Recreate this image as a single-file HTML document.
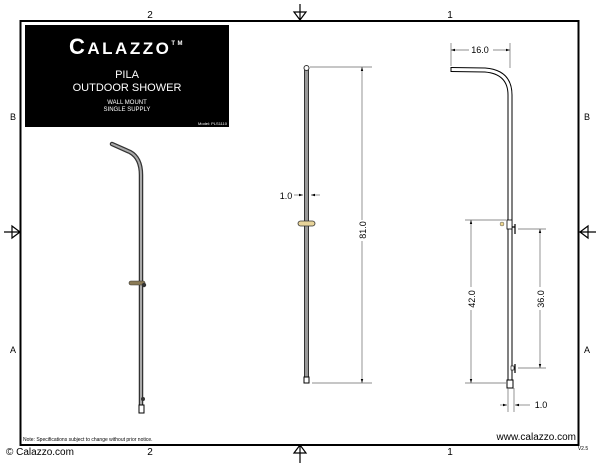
<!DOCTYPE html>
<html><head><meta charset="utf-8"><style>
html,body{margin:0;padding:0;background:#fff;}
svg{display:block;font-family:"Liberation Sans",sans-serif;}
</style></head><body>
<svg width="600" height="464" viewBox="0 0 600 464" xmlns="http://www.w3.org/2000/svg">
<defs>
<marker id="ar" viewBox="0 0 10 10" refX="10" refY="5" markerWidth="6" markerHeight="6" orient="auto-start-reverse"><path d="M0,2 L10,5 L0,8 z" fill="#000"/></marker>
</defs>
<rect x="20.5" y="21" width="558" height="424" fill="none" stroke="#000" stroke-width="2"/>
<text x="150" y="18" font-size="10" text-anchor="middle">2</text>
<text x="450" y="18" font-size="10" text-anchor="middle">1</text>
<g stroke="#000" fill="none" stroke-width="1.2">
<path d="M300,4 V21 M294,12 L300,20 L306,12 Z"/>
<path d="M300,463 V445 M294,453 L300,445 L306,453 Z"/>
<path d="M4,232 H20 M12,226 L20,232 L12,238 Z"/>
<path d="M596,232 H579 M588,226 L580,232 L588,238 Z"/>
</g>
<text x="13" y="120" font-size="9" text-anchor="middle">B</text>
<text x="13" y="353" font-size="9" text-anchor="middle">A</text>
<text x="587" y="120" font-size="9" text-anchor="middle">B</text>
<text x="587" y="353" font-size="9" text-anchor="middle">A</text>
<text x="150" y="455" font-size="10" text-anchor="middle">2</text>
<text x="450" y="455" font-size="10" text-anchor="middle">1</text>
<text x="6" y="455" font-size="10">© Calazzo.com</text>
<text x="583" y="450" font-size="5" text-anchor="middle">V2.5</text>
<text x="23" y="441" font-size="5">Note: Specifications subject to change without prior notice.</text>
<text x="576" y="440" font-size="10" text-anchor="end">www.calazzo.com</text>
<rect x="25" y="25" width="204" height="102" fill="#000"/>
<text x="127" y="54" font-size="22" fill="#fff" text-anchor="middle" letter-spacing="2.5" font-weight="bold">C<tspan font-size="17">ALAZZO</tspan><tspan font-size="6" dy="-9">TM</tspan></text>
<text x="127" y="78" font-size="11" fill="#fff" text-anchor="middle">PILA</text>
<text x="127" y="91" font-size="11" fill="#fff" text-anchor="middle">OUTDOOR SHOWER</text>
<text x="127" y="104" font-size="6" fill="#fff" text-anchor="middle">WALL MOUNT</text>
<text x="127" y="111" font-size="6" fill="#fff" text-anchor="middle">SINGLE SUPPLY</text>
<text x="227" y="125" font-size="4" fill="#fff" text-anchor="end">Model: PLS1110</text>
<g fill="none" stroke-linecap="round">
<path d="M112,144 L130,152 Q141,158 141,175 L141,410" stroke="#333" stroke-width="4.5"/>
<path d="M112,144 L130,152 Q141,158 141,175 L141,410" stroke="#aaa" stroke-width="2"/>
</g>
<rect x="139" y="405" width="5" height="8" fill="#fff" stroke="#000"/>
<circle cx="143" cy="399" r="2" fill="#333"/>
<rect x="129" y="281" width="16" height="4" rx="2" fill="#8a7a55" stroke="#333" stroke-width="0.6"/>
<circle cx="144" cy="285" r="2.2" fill="#333"/>
<rect x="304.5" y="68" width="4" height="310" fill="#999" stroke="#333" stroke-width="1"/>
<circle cx="306.5" cy="68" r="2.5" fill="#fff" stroke="#333"/>
<rect x="304" y="377" width="5" height="6" fill="#fff" stroke="#000"/>
<rect x="298" y="221" width="17" height="5" rx="2.5" fill="#e8d49a" stroke="#333" stroke-width="0.8"/>
<g stroke="#666" stroke-width="0.7">
<line x1="310" y1="67" x2="372" y2="67"/><line x1="312" y1="383" x2="372" y2="383"/>
<line x1="362" y1="67" x2="362" y2="220" marker-start="url(#ar)"/>
<line x1="362" y1="241" x2="362" y2="383" marker-end="url(#ar)"/>
<line x1="294" y1="195" x2="303" y2="195" marker-end="url(#ar)"/>
<line x1="320" y1="195" x2="311" y2="195" marker-end="url(#ar)"/>
</g>
<text x="286" y="199" font-size="9" text-anchor="middle">1.0</text>
<text transform="translate(366,230) rotate(-90)" font-size="9" text-anchor="middle">81.0</text>
<path d="M451,69.5 L485,70 Q510,72 510,95 L510,384" fill="none" stroke="#000" stroke-width="5"/>
<path d="M451,69.5 L485,70 Q510,72 510,95 L510,384" fill="none" stroke="#fff" stroke-width="3"/>
<line x1="451" y1="67" x2="451" y2="72" stroke="#000"/>
<rect x="507" y="380" width="6" height="8" fill="#fff" stroke="#000"/>
<rect x="507" y="220" width="5" height="9" fill="#fff" stroke="#000" stroke-width="0.8"/>
<path d="M512,227 H515 M515,224 V234" stroke="#000" fill="none" stroke-width="1.2"/>
<path d="M512,368 H515 M515,364 V373" stroke="#000" fill="none" stroke-width="1.2"/>
<rect x="511" y="366" width="3" height="4" fill="#fff" stroke="#000" stroke-width="0.6"/>
<circle cx="502" cy="224" r="2" fill="#f0d890" stroke="#555" stroke-width="0.5"/>
<g stroke="#666" stroke-width="0.7">
<line x1="451" y1="43" x2="451" y2="66"/><line x1="510" y1="43" x2="510" y2="68"/>
<line x1="451" y1="50" x2="469" y2="50" marker-start="url(#ar)"/>
<line x1="493" y1="50" x2="510" y2="50" marker-end="url(#ar)"/>
<line x1="465" y1="220" x2="506" y2="220"/><line x1="465" y1="383" x2="506" y2="383"/>
<line x1="471" y1="220" x2="471" y2="287" marker-start="url(#ar)"/>
<line x1="471" y1="310" x2="471" y2="383" marker-end="url(#ar)"/>
<line x1="518" y1="229" x2="546" y2="229"/><line x1="518" y1="368" x2="546" y2="368"/>
<line x1="540" y1="229" x2="540" y2="287" marker-start="url(#ar)"/>
<line x1="540" y1="310" x2="540" y2="368" marker-end="url(#ar)"/>
<line x1="508" y1="388" x2="508" y2="412"/><line x1="514" y1="388" x2="514" y2="412"/>
<line x1="500" y1="405" x2="507" y2="405" marker-end="url(#ar)"/>
<line x1="530" y1="405" x2="515" y2="405" marker-end="url(#ar)"/>
</g>
<text x="480" y="53" font-size="9" text-anchor="middle">16.0</text>
<text transform="translate(475,299) rotate(-90)" font-size="9" text-anchor="middle">42.0</text>
<text transform="translate(544,299) rotate(-90)" font-size="9" text-anchor="middle">36.0</text>
<text x="541" y="408" font-size="9" text-anchor="middle">1.0</text>
</svg>
</body></html>
